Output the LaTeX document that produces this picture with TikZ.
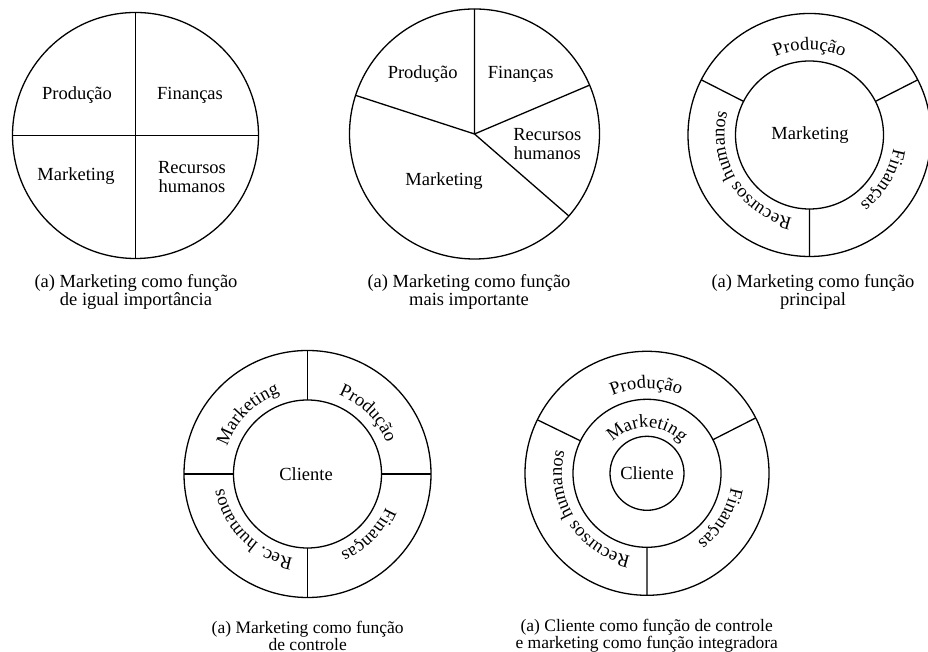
\documentclass[tikz,border=0pt]{standalone}
\usepackage{fontspec}
\setmainfont{Liberation Serif}
\usetikzlibrary{decorations.text}
\newcommand\lblfont{\fontsize{18.5}{18.5}\selectfont}
\newcommand\capfont{\fontsize{17.5}{15.5}\selectfont}
\newcommand\capfonttop{\fontsize{18.5}{16}\selectfont}
\begin{document}
\begin{tikzpicture}[x=1pt,y=1pt,
  ring/.style={line width=1.3pt},
  lbl/.style={font=\lblfont, align=center, inner sep=0pt},
  captext/.style={font=\capfont, align=center, inner sep=0pt},
  captop/.style={font=\capfonttop, align=center, inner sep=0pt},
  arctext/.style={decorate, decoration={text along path, text align=center, text={|\lblfont|#1}}}
]
\useasboundingbox (0,0) rectangle (928,652);

% (1) four equal quadrants
\coordinate (c1) at (135.5,516.5);
\draw[ring] (c1) circle[radius=123];
\draw[ring,shift={(c1)}] (90:123) -- (270:123) (180:123) -- (0:123);
\node[lbl] (p1) at (77,557) {Produção};
\node[lbl] (f1) at (190,557) {Finanças};
\node[lbl] (m1) at (76,476) {Marketing};
\node[lbl] (r1) at (192,475) {Recursos\\humanos};
\node[captop] (cap1) at (136,360) {(a) Marketing como função\\de igual importância};

% (2) unequal pie
\coordinate (c2) at (474.5,518);
\draw[ring] (c2) circle[radius=125];
\draw[ring,shift={(c2)}] (90:125) -- (0,0) -- (162:125) (0,0) -- (23:125) (0,0) -- (-41:125);
\node[lbl] (p2) at (422.7,578) {Produção};
\node[lbl] (f2) at (520.7,578) {Finanças};
\node[lbl] (r2) at (547.3,508) {Recursos\\humanos};
\node[lbl] (m2) at (444,471) {Marketing};
\node[captop] (cap2) at (469,360) {(a) Marketing como função\\mais importante};

% (3) marketing at the core
\coordinate (c3) at (809.5,517);
\draw[ring] (c3) circle[radius=121.5];
\draw[ring] (c3) circle[radius=74];
\draw[ring,shift={(c3)}] (153:74) -- (153:121.5) (27:74) -- (27:121.5) (270:74) -- (270:121.5);
\node[lbl] (m3) at (810,517) {Marketing};
\path[arctext={Produção}] (c3) ++(153:85) arc[start angle=153, end angle=27, radius=85];
\path[arctext={Finanças}] (c3) ++(27:85) arc[start angle=27, end angle=-90, radius=85];
\path[arctext={Recursos humanos}] (c3) ++(-90:85) arc[start angle=-90, end angle=-207, radius=85];
\node[captop] (cap3) at (813,360) {(a) Marketing como função\\principal};

% (4) customer at the core
\coordinate (c4) at (307.5,178);
\draw[ring] (c4) circle[radius=123.5];
\draw[ring] (c4) circle[radius=74];
\draw[ring,shift={(c4)}] (0:74) -- (0:123.5) (90:74) -- (90:123.5) (180:74) -- (180:123.5) (270:74) -- (270:123.5);
\node[lbl] (cl4) at (306,178) {Cliente};
\path[arctext={Marketing}] (c4) ++(180:85) arc[start angle=180, end angle=90, radius=85];
\path[arctext={Produção}] (c4) ++(90:85) arc[start angle=90, end angle=0, radius=85];
\path[arctext={Finanças}] (c4) ++(0:85) arc[start angle=0, end angle=-90, radius=85];
\path[arctext={Rec. humanos}] (c4) ++(-90:85) arc[start angle=-90, end angle=-180, radius=85];
\node[captext] (cap4) at (307.7,16.5) {(a) Marketing como função\\de controle};

% (5) customer, marketing, then the other functions
\coordinate (c5) at (647,178.7);
\draw[ring] (c5) circle[radius=122];
\draw[ring] (c5) circle[radius=74];
\draw[ring] (c5) circle[radius=37];
\draw[ring,shift={(c5)}] (154:74) -- (154:122) (27:74) -- (27:122) (270:74) -- (270:122);
\node[lbl] (cl5) at (647,178.7) {Cliente};
\path[arctext={Marketing}] (c5) ++(180:46) arc[start angle=180, end angle=0, radius=46];
\path[arctext={Produção}] (c5) ++(154:85) arc[start angle=154, end angle=27, radius=85];
\path[arctext={Finanças}] (c5) ++(27:85) arc[start angle=27, end angle=-90, radius=85];
\path[arctext={Recursos humanos}] (c5) ++(-90:85) arc[start angle=-90, end angle=-206, radius=85];
\node[captext] (cap5) at (646.7,16.5) {(a) Cliente como função de controle\\e marketing como função integradora};
\end{tikzpicture}
\end{document}
